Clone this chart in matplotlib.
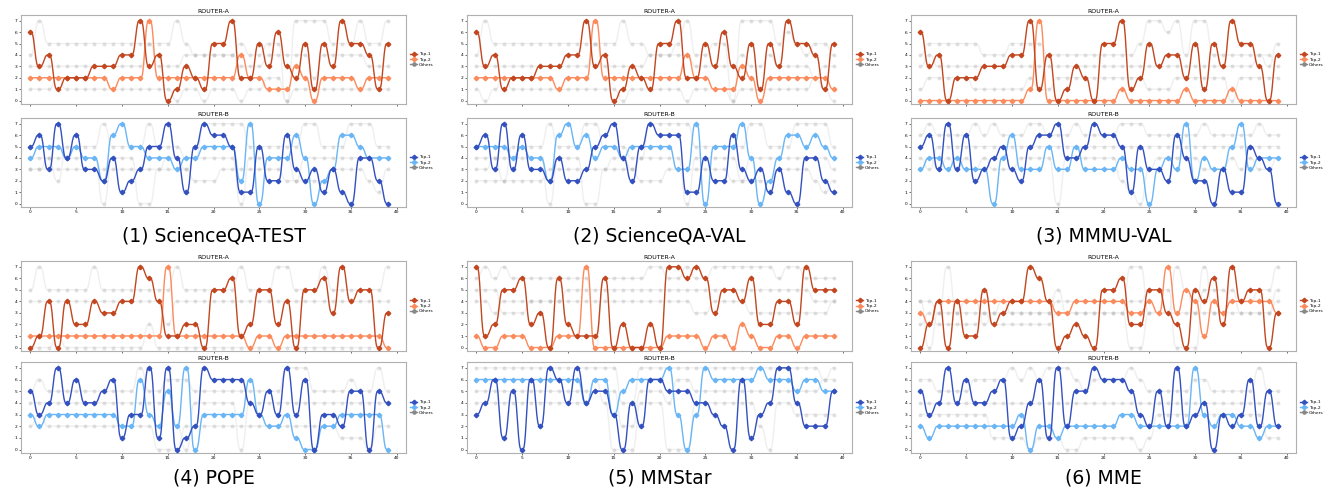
import numpy as np
import matplotlib
matplotlib.use("Agg")
import matplotlib.pyplot as plt
from matplotlib.lines import Line2D

# ---- data: expert index (0-7) chosen at each of 40 steps ----
steps = list(range(40))

# (1) ScienceQA-TEST
p1_a_top1 = [6,3,4,1,2,2,2,3,3,3,4,4,7,3,4,0,1,3,2,1,5,5,7,2,2,5,3,6,3,2,5,1,5,3,7,5,5,4,1,5]
p1_a_top2 = [2,2,2,2,2,2,2,2,2,1,2,2,2,7,2,2,2,2,2,2,2,2,2,4,2,2,1,1,1,3,2,0,2,2,2,2,1,2,2,2]
p1_a_oth1 = [4,7,5,5,5,5,5,5,5,5,5,5,5,5,5,5,7,5,4,4,4,4,4,5,4,4,5,5,0,7,7,7,7,5,5,5,7,5,5,7]
p1_a_oth2 = [3,3,3,3,3,3,3,3,3,3,3,3,3,5,3,3,3,4,4,4,4,4,4,3,3,3,4,4,4,4,4,2,4,4,4,4,4,3,3,3]
p1_a_oth3 = [1,1,1,2,1,1,1,1,1,1,1,1,1,1,1,1,0,1,1,0,1,1,1,0,1,1,2,2,0,1,1,1,1,1,1,1,1,1,1,1]
p1_b_top1 = [5,6,3,7,4,6,3,3,2,4,1,2,3,5,5,7,4,1,5,7,6,6,5,1,1,5,2,2,6,3,2,3,1,3,1,0,4,4,2,0]
p1_b_top2 = [4,5,5,5,4,5,4,4,2,6,7,5,5,4,4,4,3,4,4,5,5,5,5,2,7,0,4,4,4,6,4,0,2,3,6,6,5,4,4,4]
p1_b_oth1 = [3,3,4,2,5,5,5,5,7,5,5,5,5,7,5,5,5,4,4,7,7,7,7,7,5,5,5,5,5,5,7,7,5,5,5,7,7,7,5,5]
p1_b_oth2 = [4,4,4,4,4,4,4,4,0,4,4,4,0,0,3,4,4,3,4,4,4,4,4,0,4,4,4,4,4,2,4,4,4,4,4,4,4,4,4,4]
p1_b_oth3 = [3,3,3,3,3,3,3,3,3,3,3,3,3,3,3,3,3,3,2,2,2,3,3,3,3,3,3,3,2,2,2,2,2,3,3,3,3,2,1,3]

# (2) ScienceQA-VAL
p2_a_top1 = [6,3,4,1,2,2,2,3,3,3,4,4,7,3,4,0,1,3,2,1,5,5,7,2,2,5,3,6,3,2,5,1,5,3,7,5,5,4,1,5]
p2_a_top2 = [2,2,2,2,2,2,2,2,2,1,2,2,2,7,2,2,2,2,2,2,2,2,2,4,2,2,1,1,1,3,2,0,2,2,2,2,2,2,2,1]
p2_a_oth1 = [4,7,5,5,5,5,5,5,5,5,5,5,5,5,5,5,7,5,5,4,4,4,5,7,4,4,5,5,0,7,7,7,7,5,6,5,4,5,5,4]
p2_a_oth2 = [3,3,3,3,3,3,3,3,3,3,3,3,3,5,3,3,3,3,3,4,4,4,4,4,3,3,3,3,3,4,3,3,4,3,3,3,3,2,3,3]
p2_a_oth3 = [1,0,1,2,1,1,1,1,1,1,1,1,1,1,1,1,0,1,1,1,1,1,1,0,1,1,1,1,0,1,1,1,1,1,1,1,1,2,1,0]
p2_b_top1 = [5,6,3,7,3,6,3,3,2,4,2,2,3,5,6,7,4,2,5,7,6,6,6,1,1,4,2,2,6,3,2,3,1,3,1,0,4,4,2,1]
p2_b_top2 = [5,5,5,5,4,5,4,4,2,6,7,5,6,4,5,5,4,5,5,5,5,5,3,3,7,0,5,5,5,7,4,0,2,4,6,6,5,6,5,4]
p2_b_oth1 = [3,3,4,2,5,5,5,5,7,5,5,5,7,7,5,5,5,4,4,7,7,7,7,7,5,5,5,5,5,5,7,7,5,5,5,7,7,7,7,5]
p2_b_oth2 = [4,4,4,4,4,4,4,4,0,4,4,4,0,0,3,4,4,3,4,4,4,4,4,0,4,4,4,4,4,2,4,4,4,4,4,4,4,4,4,3]
p2_b_oth3 = [2,2,2,2,2,2,2,2,3,3,3,3,3,3,3,3,3,3,2,2,2,3,3,3,3,3,3,3,2,2,2,2,2,3,3,3,3,2,1,2]

# (3) MMMU-VAL
p3_a_top1 = [6,3,4,0,2,2,2,3,3,3,4,4,7,1,4,0,1,3,2,0,5,5,7,1,2,5,3,4,4,2,5,1,5,3,7,5,5,3,0,4]
p3_a_top2 = [0,0,0,0,0,0,0,0,0,0,0,0,1,7,0,0,0,0,0,0,0,0,1,0,0,0,0,0,0,1,0,0,0,0,1,0,0,0,0,0]
p3_a_oth1 = [4,5,5,5,5,5,5,4,4,4,5,5,5,5,4,4,4,4,4,4,4,4,4,4,5,7,7,6,7,4,7,7,4,4,4,4,4,4,4,3]
p3_a_oth2 = [3,4,3,3,3,3,3,3,3,3,3,3,3,3,3,3,3,3,3,3,3,3,3,3,3,3,3,3,3,3,3,3,3,3,3,3,3,4,3,5]
p3_a_oth3 = [1,2,2,2,2,2,1,1,1,1,1,1,2,1,1,2,2,2,2,2,2,2,2,2,2,1,1,1,2,2,2,2,2,2,0,2,2,2,2,2]
p3_b_top1 = [5,6,3,7,3,6,2,3,4,5,3,2,5,6,6,7,4,4,5,7,6,6,5,1,5,3,3,2,6,4,2,2,0,3,1,1,5,4,3,0]
p3_b_top2 = [3,4,4,3,4,3,3,3,0,4,6,3,3,3,5,3,3,5,3,3,3,3,4,3,3,0,3,4,3,7,2,4,3,3,5,7,3,4,4,4]
p3_b_oth1 = [6,7,6,6,6,6,7,6,7,6,6,6,7,7,6,6,6,7,6,6,6,6,7,7,7,6,6,6,6,6,6,7,6,6,6,6,6,7,6,6]
p3_b_oth2 = [4,3,5,5,5,5,5,5,5,5,5,5,5,5,5,5,5,5,5,5,5,5,5,5,5,5,5,5,5,5,5,5,5,5,5,5,5,5,5,5]
p3_b_oth3 = [3,4,3,4,3,4,3,4,3,3,3,4,4,4,4,0,4,4,4,4,4,4,2,1,0,3,4,4,4,4,4,3,3,3,4,3,4,3,3,4]

# (4) POPE
p4_a_top1 = [0,1,4,0,4,2,2,4,3,3,4,4,7,6,4,1,1,2,2,0,5,5,6,1,2,5,5,2,4,0,5,5,6,3,7,4,5,5,0,3]
p4_a_top2 = [1,1,1,1,1,1,1,1,1,1,1,1,1,1,1,7,1,1,1,1,1,1,1,1,0,1,1,0,1,1,1,1,1,1,1,1,1,1,1,0]
p4_a_oth1 = [5,7,5,5,5,5,5,7,5,5,5,5,5,5,5,5,7,5,5,5,5,5,5,7,5,5,5,7,7,5,5,5,7,5,5,5,5,5,5,7]
p4_a_oth2 = [4,4,4,4,4,4,4,4,4,4,4,4,4,4,4,2,4,4,4,4,4,4,4,4,4,4,4,4,4,4,4,4,4,4,4,4,4,4,4,4]
p4_a_oth3 = [0,0,0,1,0,0,0,0,0,0,0,0,0,2,0,0,0,0,0,0,0,0,0,0,0,0,0,0,0,0,0,0,0,0,0,0,0,0,0,0]
p4_b_top1 = [5,3,4,7,4,6,4,4,5,6,1,3,3,7,1,7,0,1,2,7,6,6,6,6,4,3,5,3,7,3,6,0,3,3,2,5,5,0,5,4]
p4_b_top2 = [3,2,3,3,3,3,3,3,3,3,2,2,6,3,2,5,2,7,0,3,3,3,3,3,6,3,2,2,3,1,0,0,2,2,3,3,3,3,3,0]
p4_b_oth1 = [5,6,5,5,5,5,5,5,5,5,5,5,7,5,5,6,6,6,5,5,5,5,5,5,5,5,5,5,7,7,7,5,5,5,5,6,5,5,7,5]
p4_b_oth2 = [4,4,4,4,4,4,4,4,4,4,4,4,4,4,4,4,2,0,4,4,4,4,4,0,4,4,4,4,4,4,4,4,4,4,4,4,4,4,4,4]
p4_b_oth3 = [2,3,2,2,2,2,2,2,2,2,2,2,2,2,0,0,0,2,2,2,2,2,2,2,2,2,2,2,2,2,2,2,2,2,1,1,1,0,2,2]

# (5) MMStar
p5_a_top1 = [7,1,2,5,5,6,2,3,0,6,2,1,1,1,6,0,2,0,0,2,0,7,7,6,7,6,3,5,5,4,6,2,2,4,4,2,7,5,5,5]
p5_a_top2 = [1,0,0,1,1,1,0,0,0,1,1,1,7,0,0,0,0,0,0,0,0,1,1,1,1,0,1,1,0,2,1,0,0,1,1,0,1,1,1,1]
p5_a_oth1 = [6,7,6,7,6,6,6,6,6,6,6,6,6,0,6,6,6,6,6,7,7,6,6,7,6,6,7,7,7,7,7,7,7,6,7,7,6,6,6,6]
p5_a_oth2 = [5,5,5,3,3,3,4,4,4,4,5,5,5,5,5,5,5,5,5,5,5,5,5,5,5,5,5,5,5,5,5,5,5,5,5,5,5,4,4,4]
p5_a_oth3 = [4,4,3,4,4,4,4,4,4,4,4,4,4,4,4,4,4,4,4,4,4,4,4,4,3,3,4,4,4,4,3,3,3,3,3,3,3,3,3,4]
p5_b_top1 = [3,4,6,1,5,0,6,2,7,6,4,7,4,5,5,3,0,4,2,6,6,5,5,5,4,4,3,2,0,6,1,3,4,7,7,4,2,2,2,5]
p5_b_top2 = [6,6,6,6,6,6,6,6,6,6,6,6,4,6,6,3,5,6,6,6,6,7,3,0,3,7,6,6,6,6,6,7,6,6,6,5,6,6,5,5]
p5_b_oth1 = [7,7,7,7,7,7,7,7,7,7,7,7,7,7,7,7,4,4,7,7,7,7,7,7,7,7,7,7,7,7,7,7,7,7,7,7,7,7,6,7]
p5_b_oth2 = [5,5,5,5,5,5,5,5,5,5,5,5,5,5,5,5,2,2,5,5,5,4,6,6,5,5,5,5,5,5,5,5,5,5,5,5,5,5,6,6]
p5_b_oth3 = [4,4,4,4,4,4,4,4,4,4,4,4,4,6,4,0,0,0,4,4,4,0,0,0,4,4,4,4,4,4,4,2,0,4,4,3,3,3,3,3]

# (6) MME
p6_a_top1 = [0,2,4,0,4,1,1,5,2,3,4,4,7,6,4,0,1,2,1,0,5,5,6,2,2,5,5,3,2,0,5,4,6,2,7,4,5,5,0,3]
p6_a_top2 = [3,2,4,4,4,4,4,4,4,4,4,4,4,4,4,3,3,4,4,4,4,4,4,3,3,4,3,7,3,5,4,1,4,3,4,4,4,4,4,3]
p6_a_oth1 = [4,4,3,3,3,3,3,3,3,3,3,3,3,3,3,5,3,3,3,3,3,3,3,7,7,3,3,3,7,5,3,7,3,3,5,3,3,3,3,5]
p6_a_oth2 = [2,3,2,2,2,2,2,3,2,2,2,2,2,2,2,3,3,3,3,3,3,3,3,0,0,3,3,3,3,3,3,3,3,3,3,3,3,3,3,4]
p6_a_oth3 = [4,0,3,7,3,4,4,2,3,4,3,3,3,3,3,4,4,4,4,4,4,4,4,4,4,5,5,5,0,0,0,5,5,5,4,4,4,5,5,7]
p6_b_top1 = [5,3,4,7,4,6,4,4,5,6,1,2,4,6,1,7,2,5,5,7,6,6,6,5,3,2,5,2,7,2,3,4,0,3,2,3,6,2,5,2]
p6_b_top2 = [2,1,2,2,2,2,2,2,2,2,2,3,0,2,2,1,2,2,2,2,2,2,3,3,2,2,2,2,2,2,7,3,2,3,3,2,2,1,2,2]
p6_b_oth1 = [6,6,5,5,5,5,6,6,6,6,7,6,7,6,7,7,7,6,5,6,6,6,6,7,6,5,5,5,5,5,6,6,5,5,5,5,5,7,5,5]
p6_b_oth2 = [4,4,4,4,4,4,4,4,4,4,4,4,4,4,4,4,4,4,4,4,4,4,4,4,4,4,4,4,4,4,4,4,4,4,4,4,4,4,4,4]
p6_b_oth3 = [3,3,3,3,3,3,3,3,1,1,1,1,0,1,1,1,0,0,1,1,1,1,1,1,0,1,3,3,3,3,3,3,3,3,3,3,3,3,1,1]

captions = ["(1) ScienceQA-TEST", "(2) ScienceQA-VAL", "(3) MMMU-VAL",
            "(4) POPE", "(5) MMStar", "(6) MME"]

panels = [
    ((p1_a_top1, p1_a_top2, [p1_a_oth1, p1_a_oth2, p1_a_oth3]),
     (p1_b_top1, p1_b_top2, [p1_b_oth1, p1_b_oth2, p1_b_oth3])),
    ((p2_a_top1, p2_a_top2, [p2_a_oth1, p2_a_oth2, p2_a_oth3]),
     (p2_b_top1, p2_b_top2, [p2_b_oth1, p2_b_oth2, p2_b_oth3])),
    ((p3_a_top1, p3_a_top2, [p3_a_oth1, p3_a_oth2, p3_a_oth3]),
     (p3_b_top1, p3_b_top2, [p3_b_oth1, p3_b_oth2, p3_b_oth3])),
    ((p4_a_top1, p4_a_top2, [p4_a_oth1, p4_a_oth2, p4_a_oth3]),
     (p4_b_top1, p4_b_top2, [p4_b_oth1, p4_b_oth2, p4_b_oth3])),
    ((p5_a_top1, p5_a_top2, [p5_a_oth1, p5_a_oth2, p5_a_oth3]),
     (p5_b_top1, p5_b_top2, [p5_b_oth1, p5_b_oth2, p5_b_oth3])),
    ((p6_a_top1, p6_a_top2, [p6_a_oth1, p6_a_oth2, p6_a_oth3]),
     (p6_b_top1, p6_b_top2, [p6_b_oth1, p6_b_oth2, p6_b_oth3])),
]

colors_a = ("#c2461f", "#fb8a5c")
colors_b = ("#3350bf", "#69b5f5")
grey_dot = "#b4b4b4"
grey_line = "#efefef"


def smooth_path(xs, ys, n=24):
    """Cosine step between consecutive points (flat at every point)."""
    px, py = [], []
    for i in range(len(xs) - 1):
        t = np.linspace(0, 1, n, endpoint=False)
        s = (1 - np.cos(np.pi * t)) / 2
        s = s * s * (3 - 2 * s)
        px.append(xs[i] + (xs[i + 1] - xs[i]) * t)
        py.append(ys[i] + (ys[i + 1] - ys[i]) * s)
    px.append([xs[-1]])
    py.append([ys[-1]])
    return np.concatenate(px), np.concatenate(py)


def draw_router(ax, top1, top2, others, cols, title, show_xlabels):
    for o in others:
        sx, sy = smooth_path(steps, o)
        ax.plot(sx, sy, color=grey_line, lw=1.0, zorder=1)
        ax.scatter(steps, o, s=8, color=grey_dot, alpha=0.4, lw=0, zorder=2)
    sx, sy = smooth_path(steps, top2)
    ax.plot(sx, sy, color=cols[1], lw=1.0, zorder=3)
    ax.plot(steps, top2, ls="none", marker="D", ms=2.3, color=cols[1], zorder=4)
    sx, sy = smooth_path(steps, top1)
    ax.plot(sx, sy, color=cols[0], lw=1.0, zorder=5)
    ax.plot(steps, top1, ls="none", marker="D", ms=2.3, color=cols[0], zorder=6)

    ax.set_xlim(-1, 41)
    ax.set_ylim(-0.3, 7.5)
    ax.set_yticks(range(8))
    ax.set_xticks(range(0, 41, 5))
    ax.tick_params(labelsize=3.2, length=1.5, width=0.4, pad=1)
    if not show_xlabels:
        ax.set_xticklabels([])
    for sp in ax.spines.values():
        sp.set_color("#b0b0b0")
        sp.set_linewidth(0.8)
    ax.set_title(title, fontsize=4.5, pad=1.5)

    handles = [
        Line2D([], [], color=cols[0], marker="D", ms=2.3, lw=1.0),
        Line2D([], [], color=cols[1], marker="D", ms=2.3, lw=1.0),
        Line2D([], [], color="#888888", marker="o", ms=2.3, lw=1.0),
    ]
    ax.legend(handles, ["Top-1", "Top-2", "Others"], loc="center left",
              bbox_to_anchor=(1.0, 0.5), fontsize=3.2, frameon=False,
              handlelength=1.6, handletextpad=0.4, labelspacing=0.3)


W, H = 1326, 496
fig = plt.figure(figsize=(W / 100, H / 100), dpi=100)

lefts = [21, 467, 911]
width = 385
rows = [((15, 104), (118, 207), 236), ((261, 351), (362, 453), 478)]

for k, (ra, rb) in enumerate(panels):
    col, row = k % 3, k // 3
    (a_top, a_bot), (b_top, b_bot), cap_y = rows[row]
    left = lefts[col] / W
    ax_a = fig.add_axes([left, 1 - a_bot / H, width / W, (a_bot - a_top) / H])
    ax_b = fig.add_axes([left, 1 - b_bot / H, width / W, (b_bot - b_top) / H])
    draw_router(ax_a, ra[0], ra[1], ra[2], colors_a, "ROUTER-A", False)
    draw_router(ax_b, rb[0], rb[1], rb[2], colors_b, "ROUTER-B", True)
    fig.text((lefts[col] + width / 2) / W, 1 - cap_y / H, captions[k],
             ha="center", va="center", fontsize=13.5)

fig.savefig("out.png", dpi=100)
